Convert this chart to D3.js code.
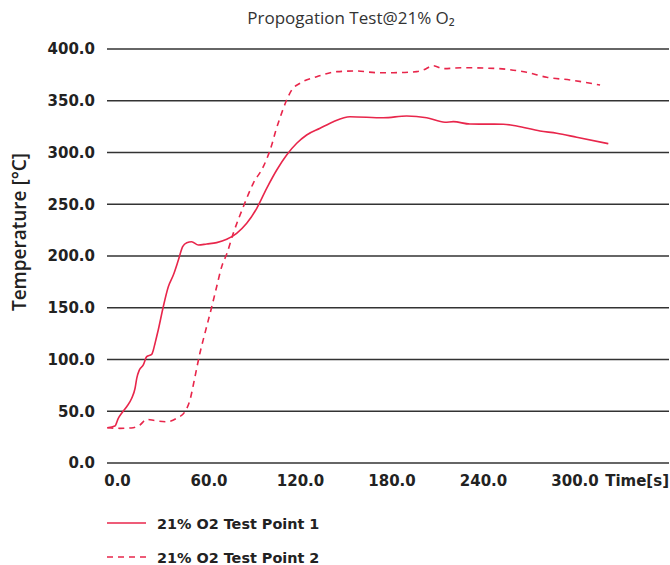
<!DOCTYPE html>
<html>
<head>
<meta charset="utf-8">
<script src="https://cdn.jsdelivr.net/npm/d3@7"></script>
<style>
  body { margin: 0; background: #fff; }
  svg text { fill: #222; }
</style>
</head>
<body>
<div id="chart"></div>
<script>
// values (time in s, temperature in °C)
const seriesNames = ["21% O2 Test Point 1", "21% O2 Test Point 2"];
const yTicks = [0, 50, 100, 150, 200, 250, 300, 350, 400];
const xTicks = [0, 60, 120, 180, 240, 300];

const time1 = [0.2, 5.2, 7.4, 9.6, 12.9, 16.2, 18.4, 19.5, 21.2, 23.8, 26.0, 29.3, 30.4, 31.5, 33.6, 36.9,
  40.2, 43.5, 46.8, 49.6, 52.3, 55.5, 59.9, 65.4, 71.9, 78.5, 85.0, 91.6, 98.2, 104.7, 111.3, 117.8,
  124.4, 130.9, 139.7, 148.4, 159.3, 181.2, 196.5, 209.6, 221.6, 227.1, 238.0, 259.9, 268.6, 283.9,
  294.9, 308.0, 328.7];
const temp1 = [34.1, 35.7, 43.2, 48.0, 54.4, 62.5, 72.2, 81.8, 89.9, 94.7, 102.7, 105.0, 109.2, 115.7, 128.5, 151.0,
  170.3, 181.6, 196.1, 209.0, 212.9, 213.8, 210.6, 211.6, 212.9, 216.1, 221.9, 231.6, 246.1, 265.4, 283.1, 297.6,
  308.9, 316.9, 323.4, 329.8, 334.6, 333.6, 335.3, 333.6, 329.2, 329.8, 327.5, 327.3, 325.6, 320.8,
  318.6, 314.7, 308.5];

const time2 = [0.2, 8.5, 17.2, 21.6, 26.0, 31.5, 39.1, 45.7, 51.1, 54.4, 57.7, 60.9, 64.2, 68.7, 71.9, 75.2,
  78.5, 82.8, 89.4, 95.9, 102.5, 108.0, 110.8, 113.4, 117.8, 121.1, 126.6, 137.5, 150.6, 163.7, 176.8,
  187.7, 203.1, 207.4, 214.0, 220.5, 233.6, 246.7, 262.1, 275.2, 288.3, 303.6, 323.3];
const temp2 = [34.1, 33.5, 34.1, 36.7, 42.2, 40.9, 39.9, 43.2, 49.6, 60.9, 83.4, 106.0, 125.3, 151.0, 170.3, 189.7,
  201.9, 221.9, 247.6, 270.2, 286.3, 307.2, 321.7, 333.3, 350.7, 360.4, 366.9, 373.2, 378.1, 378.8, 377.1,
  377.1, 378.1, 379.7, 383.9, 381.0, 381.9, 381.6, 380.4, 377.5, 372.7, 370.1, 365.2];

const red = "#e8264b";
const width = 670, height = 565;
const margin = { top: 49, right: 1, bottom: 102, left: 107 };
const labelFont = "'DejaVu Sans', sans-serif";

const svg = d3.select("#chart").append("svg")
  .attr("width", width)
  .attr("height", height);

const x = d3.scaleLinear()
  .domain([0, 368.5])
  .range([margin.left, width - margin.right]);
const y = d3.scaleLinear()
  .domain([0, 400])
  .range([height - margin.bottom, margin.top]);

// title
svg.append("text")
  .attr("x", 351)
  .attr("y", 24)
  .attr("text-anchor", "middle")
  .style("font-family", "'Open Sans', sans-serif")
  .style("font-size", "17px")
  .style("fill", "#333")
  .text("Propogation Test@21% O₂");

// gridlines
svg.append("g")
  .selectAll("line")
  .data(yTicks)
  .join("line")
  .attr("x1", margin.left)
  .attr("x2", width - margin.right)
  .attr("y1", d => y(d))
  .attr("y2", d => y(d))
  .attr("stroke", "#333")
  .attr("stroke-width", 1.3);

// y axis labels
const yAxis = d3.axisLeft(y).tickValues(yTicks).tickFormat(d3.format(".1f")).tickSize(0).tickPadding(12);
svg.append("g")
  .attr("transform", `translate(${margin.left},0)`)
  .call(yAxis)
  .call(g => g.select(".domain").remove())
  .selectAll("text")
  .style("font-family", labelFont)
  .style("font-weight", "bold")
  .style("font-size", "15px")
  .style("fill", "#222");

// x axis labels
const xAxis = d3.axisBottom(x).tickValues(xTicks).tickFormat(d3.format(".1f")).tickSize(0).tickPadding(12);
svg.append("g")
  .attr("transform", `translate(0,${y(0)})`)
  .call(xAxis)
  .call(g => g.select(".domain").remove())
  .selectAll("text")
  .attr("dx", 10)
  .style("font-family", labelFont)
  .style("font-weight", "bold")
  .style("font-size", "15px")
  .style("fill", "#222");

svg.append("text")
  .attr("x", 669)
  .attr("y", 486)
  .attr("text-anchor", "end")
  .style("font-family", labelFont)
  .style("font-weight", "bold")
  .style("font-size", "15px")
  .text("Time[s]");

// y axis title
svg.append("text")
  .attr("transform", "translate(26,232) rotate(-90)")
  .attr("text-anchor", "middle")
  .style("font-family", "'Open Sans', sans-serif")
  .style("font-weight", "600")
  .style("font-size", "19px")
  .text("Temperature [°C]");

// lines
const line = d3.line()
  .x(d => x(d[0]))
  .y(d => y(d[1]))
  .curve(d3.curveMonotoneX);

const data1 = time1.map((t, i) => [t, temp1[i]]);
const data2 = time2.map((t, i) => [t, temp2[i]]);

svg.append("path")
  .datum(data1)
  .attr("d", line)
  .attr("fill", "none")
  .attr("stroke", red)
  .attr("stroke-width", 1.6);

svg.append("path")
  .datum(data2)
  .attr("d", line)
  .attr("fill", "none")
  .attr("stroke", red)
  .attr("stroke-width", 1.6)
  .attr("stroke-dasharray", "6,5");

// legend
const legend = svg.append("g");
seriesNames.forEach((name, i) => {
  const ly = 523 + i * 34;
  legend.append("line")
    .attr("x1", 107).attr("x2", 146)
    .attr("y1", ly).attr("y2", ly)
    .attr("stroke", red)
    .attr("stroke-width", 1.6)
    .attr("stroke-dasharray", i === 1 ? "6,5" : null);
  legend.append("text")
    .attr("x", 157)
    .attr("y", ly + 6)
    .style("font-family", labelFont)
    .style("font-weight", "bold")
    .style("font-size", "14.4px")
    .text(name);
});
</script>
</body>
</html>
